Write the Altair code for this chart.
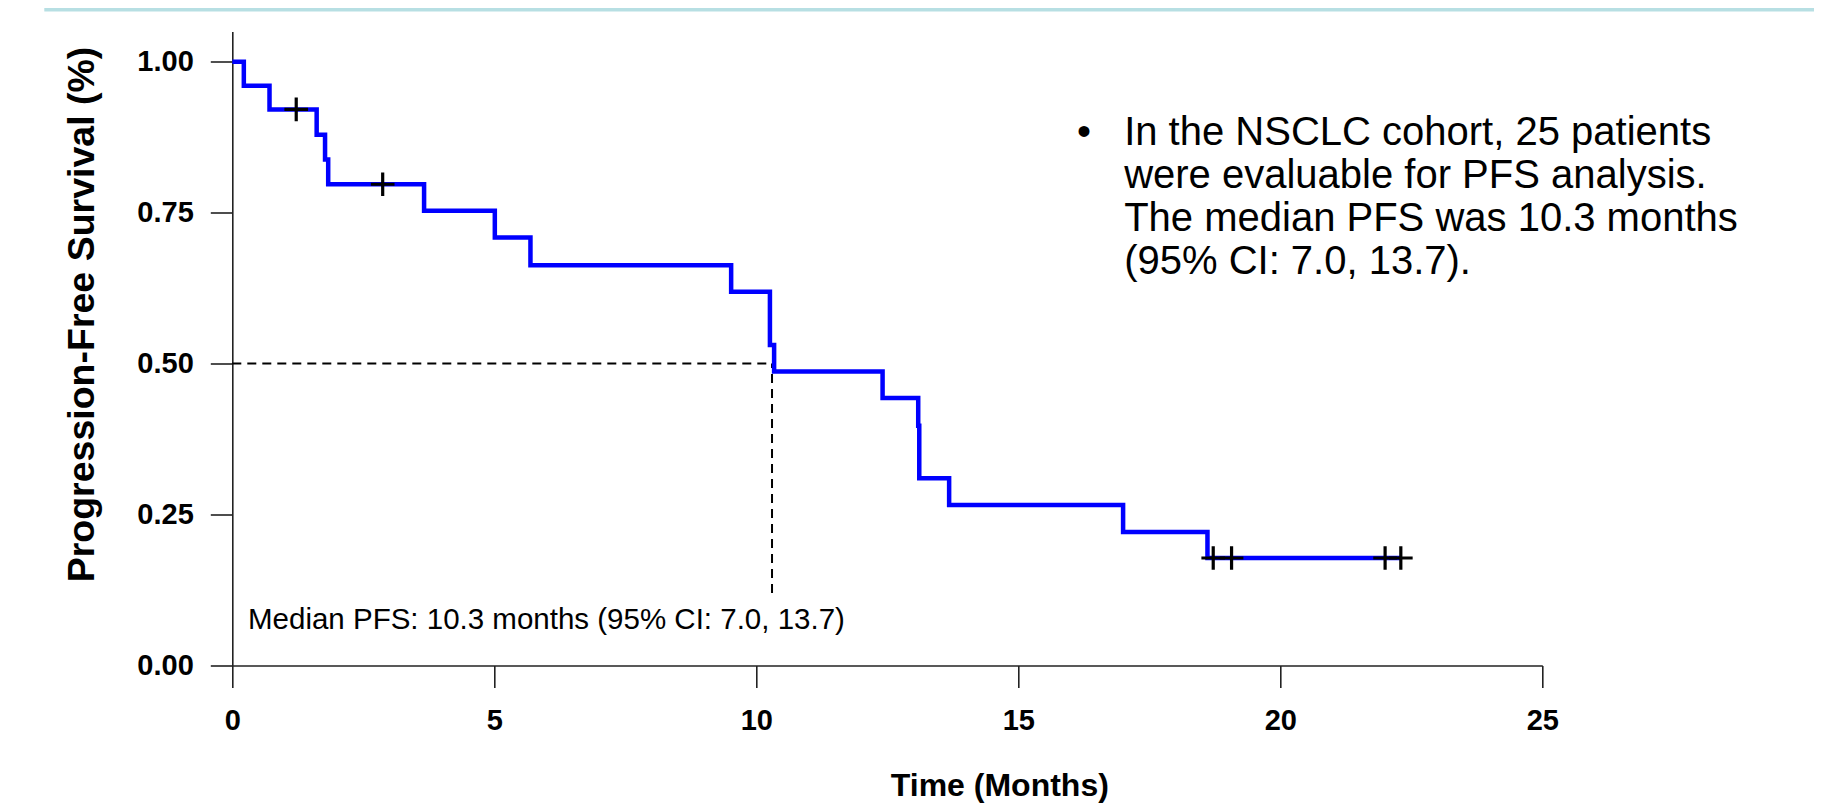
import altair as alt
import pandas as pd

# Kaplan-Meier step curve (time in months, survival probability)
km_time = [0.0, 0.22, 0.71, 1.61, 1.77, 1.83, 3.66, 5.01, 5.69, 9.52, 10.26, 10.34,
           12.41, 13.09, 13.11, 13.68, 17.0, 18.61, 22.3]
km_surv = [1.0, 0.96, 0.921, 0.879, 0.838, 0.797, 0.753, 0.709, 0.663, 0.619, 0.531, 0.487,
           0.443, 0.397, 0.310, 0.266, 0.221, 0.178, 0.178]

# censored observations
cens_time = [1.22, 2.87, 18.72, 19.07, 22.0, 22.3]
cens_surv = [0.921, 0.797, 0.178, 0.178, 0.178, 0.178]

x_ticks = [0, 5, 10, 15, 20, 25]
y_ticks = [0.0, 0.25, 0.50, 0.75, 1.00]

median_time = [10.3]
median_level = [0.5]
median_drop_end = [0.12]

annot_text = ["Median PFS: 10.3 months (95% CI: 7.0, 13.7)"]
annot_pos = [0.3, 0.06]

note_lines = ["In the NSCLC cohort, 25 patients",
              "were evaluable for PFS analysis.",
              "The median PFS was 10.3 months",
              "(95% CI: 7.0, 13.7)."]
note_pos = [17.02, 0.862]
bullet_pos = [16.12, 0.862]

FONT = "Liberation Sans"

km = pd.DataFrame({"t": km_time, "s": km_surv})
cens = pd.DataFrame({"t": cens_time, "s": cens_surv})

xscale = alt.Scale(domain=[0, 25], nice=False, zero=False)
yscale = alt.Scale(domain=[0, 1.05], nice=False, zero=False)

x_axis = alt.Axis(values=x_ticks, format="d", title="Time (Months)",
                  titleX=767, titleY=130, titleAlign="center", titleBaseline="alphabetic",
                  titleFontSize=32, titleFont=FONT, titleFontWeight="bold", titleColor="black",
                  labelFontSize=29, labelFont=FONT, labelFontWeight="bold", labelColor="black",
                  labelPadding=19, tickSize=22, labelFlush=False, grid=False,
                  domainColor="#222222", tickColor="#222222", domainWidth=1.6, tickWidth=1.6)
y_axis = alt.Axis(values=y_ticks, format=".2f", title="Progression-Free Survival (%)",
                  titleX=-138.5, titleY=282.5, titleAngle=270, titleAlign="center",
                  titleBaseline="alphabetic",
                  titleFontSize=37.5, titleFont=FONT, titleFontWeight="bold", titleColor="black",
                  labelFontSize=29, labelFont=FONT, labelFontWeight="bold", labelColor="black",
                  labelPadding=17, tickSize=22, labelFlush=False, grid=False,
                  domainColor="#222222", tickColor="#222222", domainWidth=1.6, tickWidth=1.6)

X = lambda f: alt.X(f, scale=xscale, axis=x_axis, title="Time (Months)")
Y = lambda f: alt.Y(f, scale=yscale, axis=y_axis, title="Progression-Free Survival (%)")

line = alt.Chart(km).mark_line(interpolate="step-after", color="#0000FF", strokeWidth=4.5).encode(
    x=X("t:Q"), y=Y("s:Q"))

med_h = alt.Chart(pd.DataFrame({"t0": [0.0], "t": median_time, "s": median_level})).mark_rule(
    color="black", strokeWidth=2, strokeDash=[9, 6]).encode(
    x=X("t0:Q"), x2="t:Q", y=Y("s:Q"))

med_v = alt.Chart(pd.DataFrame({"t": median_time, "s": median_drop_end, "s2": median_level})).mark_rule(
    color="black", strokeWidth=2, strokeDash=[9, 6]).encode(
    x=X("t:Q"), y=Y("s:Q"), y2="s2:Q")

cross = alt.Chart(cens).mark_point(shape="M-1,0L1,0M0,-1L0,1", size=560, filled=False,
                                   color="black", strokeWidth=3.2, opacity=1).encode(
    x=X("t:Q"), y=Y("s:Q"))

annot = alt.Chart(pd.DataFrame({"t": [annot_pos[0]], "s": [annot_pos[1]], "txt": annot_text})).mark_text(
    align="left", baseline="alphabetic", font=FONT, fontSize=29.5, color="black").encode(
    x=X("t:Q"), y=Y("s:Q"), text="txt:N")

note = alt.Chart(pd.DataFrame({"t": [note_pos[0]], "s": [note_pos[1]]})).mark_text(
    align="left", baseline="alphabetic", font=FONT, fontSize=40, color="black",
    lineHeight=43, text=note_lines).encode(
    x=X("t:Q"), y=Y("s:Q"))

bullet = alt.Chart(pd.DataFrame({"t": [bullet_pos[0]], "s": [bullet_pos[1]]})).mark_text(
    align="left", baseline="alphabetic", font=FONT, fontSize=40, color="black", text="•").encode(
    x=X("t:Q"), y=Y("s:Q"))

band = alt.Chart(pd.DataFrame({"a": [0]})).mark_rule(color="#B7DFE3", strokeWidth=3.5).encode(
    x=alt.value(-188), x2=alt.value(1582), y=alt.value(-21.7))

chart = alt.layer(band, med_h, med_v, line, cross, annot, note, bullet).properties(
    width=1310, height=634,
    autosize=alt.AutoSizeParams(type="none"),
    padding={"left": 224.3, "top": 23.5, "right": 271.7, "bottom": 139.5},
    background="white",
).configure_view(stroke=None)

chart.save("out.html", embed_options={"renderer": "svg", "actions": False})
